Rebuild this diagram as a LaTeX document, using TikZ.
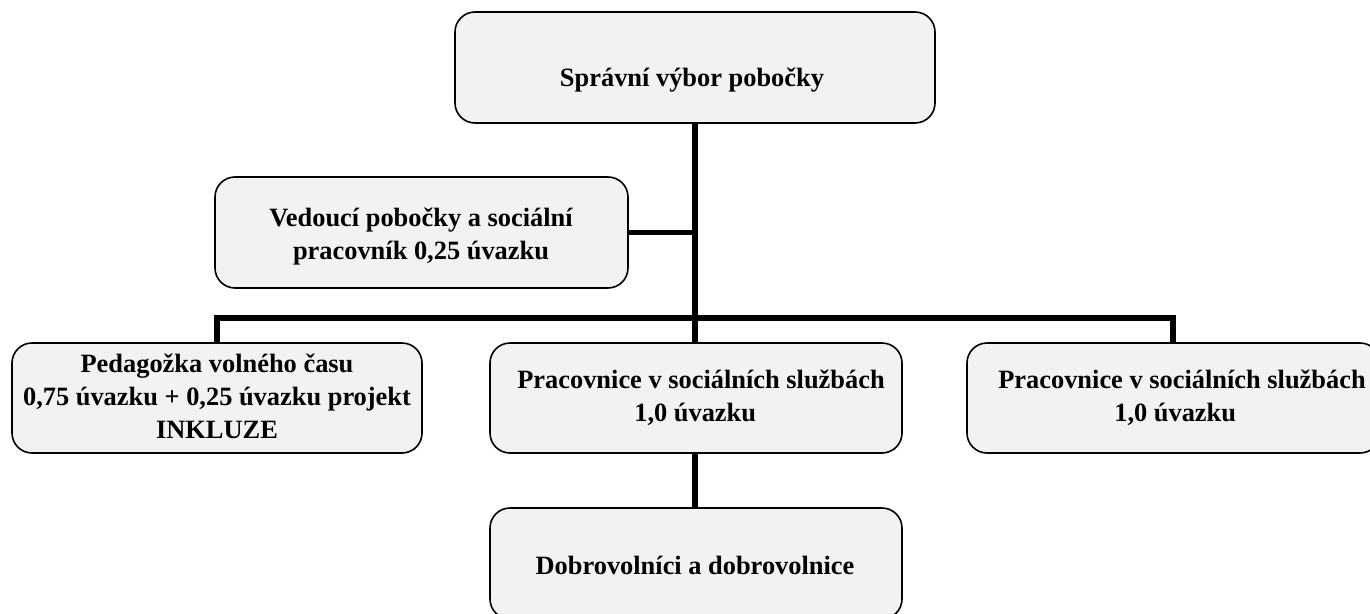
\documentclass[tikz,border=0pt]{standalone}
\usepackage{fontspec}
\setmainfont{Liberation Serif}
\definecolor{boxgray}{HTML}{F2F2F2}
\begin{document}
\begin{tikzpicture}[x=1pt,y=-1pt,
  box/.style={draw=black, line width=1.6pt, fill=boxgray, rounded corners=20pt, inner sep=0pt},
  lbl/.style={font=\bfseries\fontsize{26.4}{33}\selectfont, inner sep=0pt},
  conn/.style={line width=5.5pt, line join=miter}]
\useasboundingbox (0,0) rectangle (1370,613);
\clip (0,0) rectangle (1370,613);
% box centres
\coordinate (topc) at (695,67.5);
\coordinate (vedc) at (421.5,232.5);
\coordinate (leftc) at (217,398);
\coordinate (midc) at (696,398);
\coordinate (rightc) at (1173.5,398);
\coordinate (botc) at (696,563.5);
\coordinate (busL) at (217,318);
% connectors
\draw[conn] (topc) ++(0,55) coordinate (trunkTop) -- (trunkTop |- 0,343) coordinate (trunkBot);
\draw[conn] (628,232.5) coordinate (vedE) -- (vedE -| trunkTop);
\draw[conn] (217,343) coordinate (leftN) -- (leftN |- busL) -- (1173,318) coordinate (busR) -- (busR |- leftN);
\draw[conn] (695,453) coordinate (midS) -- (midS |- 0,508) coordinate (botN);
% boxes
\node[box, minimum width=480pt, minimum height=111pt] (top) at (topc) {};
\node[box, minimum width=413pt, minimum height=111pt] (ved) at (vedc) {};
\node[box, minimum width=410pt, minimum height=110pt] (left) at (leftc) {};
\node[box, minimum width=412pt, minimum height=110pt] (mid) at (midc) {};
\node[box, minimum width=413pt, minimum height=110pt] (right) at (rightc) {};
\node[box, minimum width=412pt, minimum height=111pt] (bot) at (botc) {};
% labels
\node[lbl, align=center] (toplbl) at (692,80) {Správní výbor pobočky};
\node[lbl, align=center] (vedlbl) at (421,236) {Vedoucí pobočky a sociální\\pracovník 0,25 úvazku};
\node[lbl, align=center] (leftlbl) at (217,396) {Pedagožka volného času\\0,75 úvazku + 0,25 úvazku projekt\\INKLUZE};
\node[lbl, align=left] (midlbl) at (701,398) {Pracovnice v sociálních službách\\\hspace*{117pt}1,0 úvazku};
\node[lbl, align=left] (rightlbl) at (1182,398) {Pracovnice v sociálních službách\\\hspace*{116pt}1,0 úvazku};
\node[lbl, align=center] (botlbl) at (695,565) {Dobrovolníci a dobrovolnice};
\end{tikzpicture}
\end{document}
